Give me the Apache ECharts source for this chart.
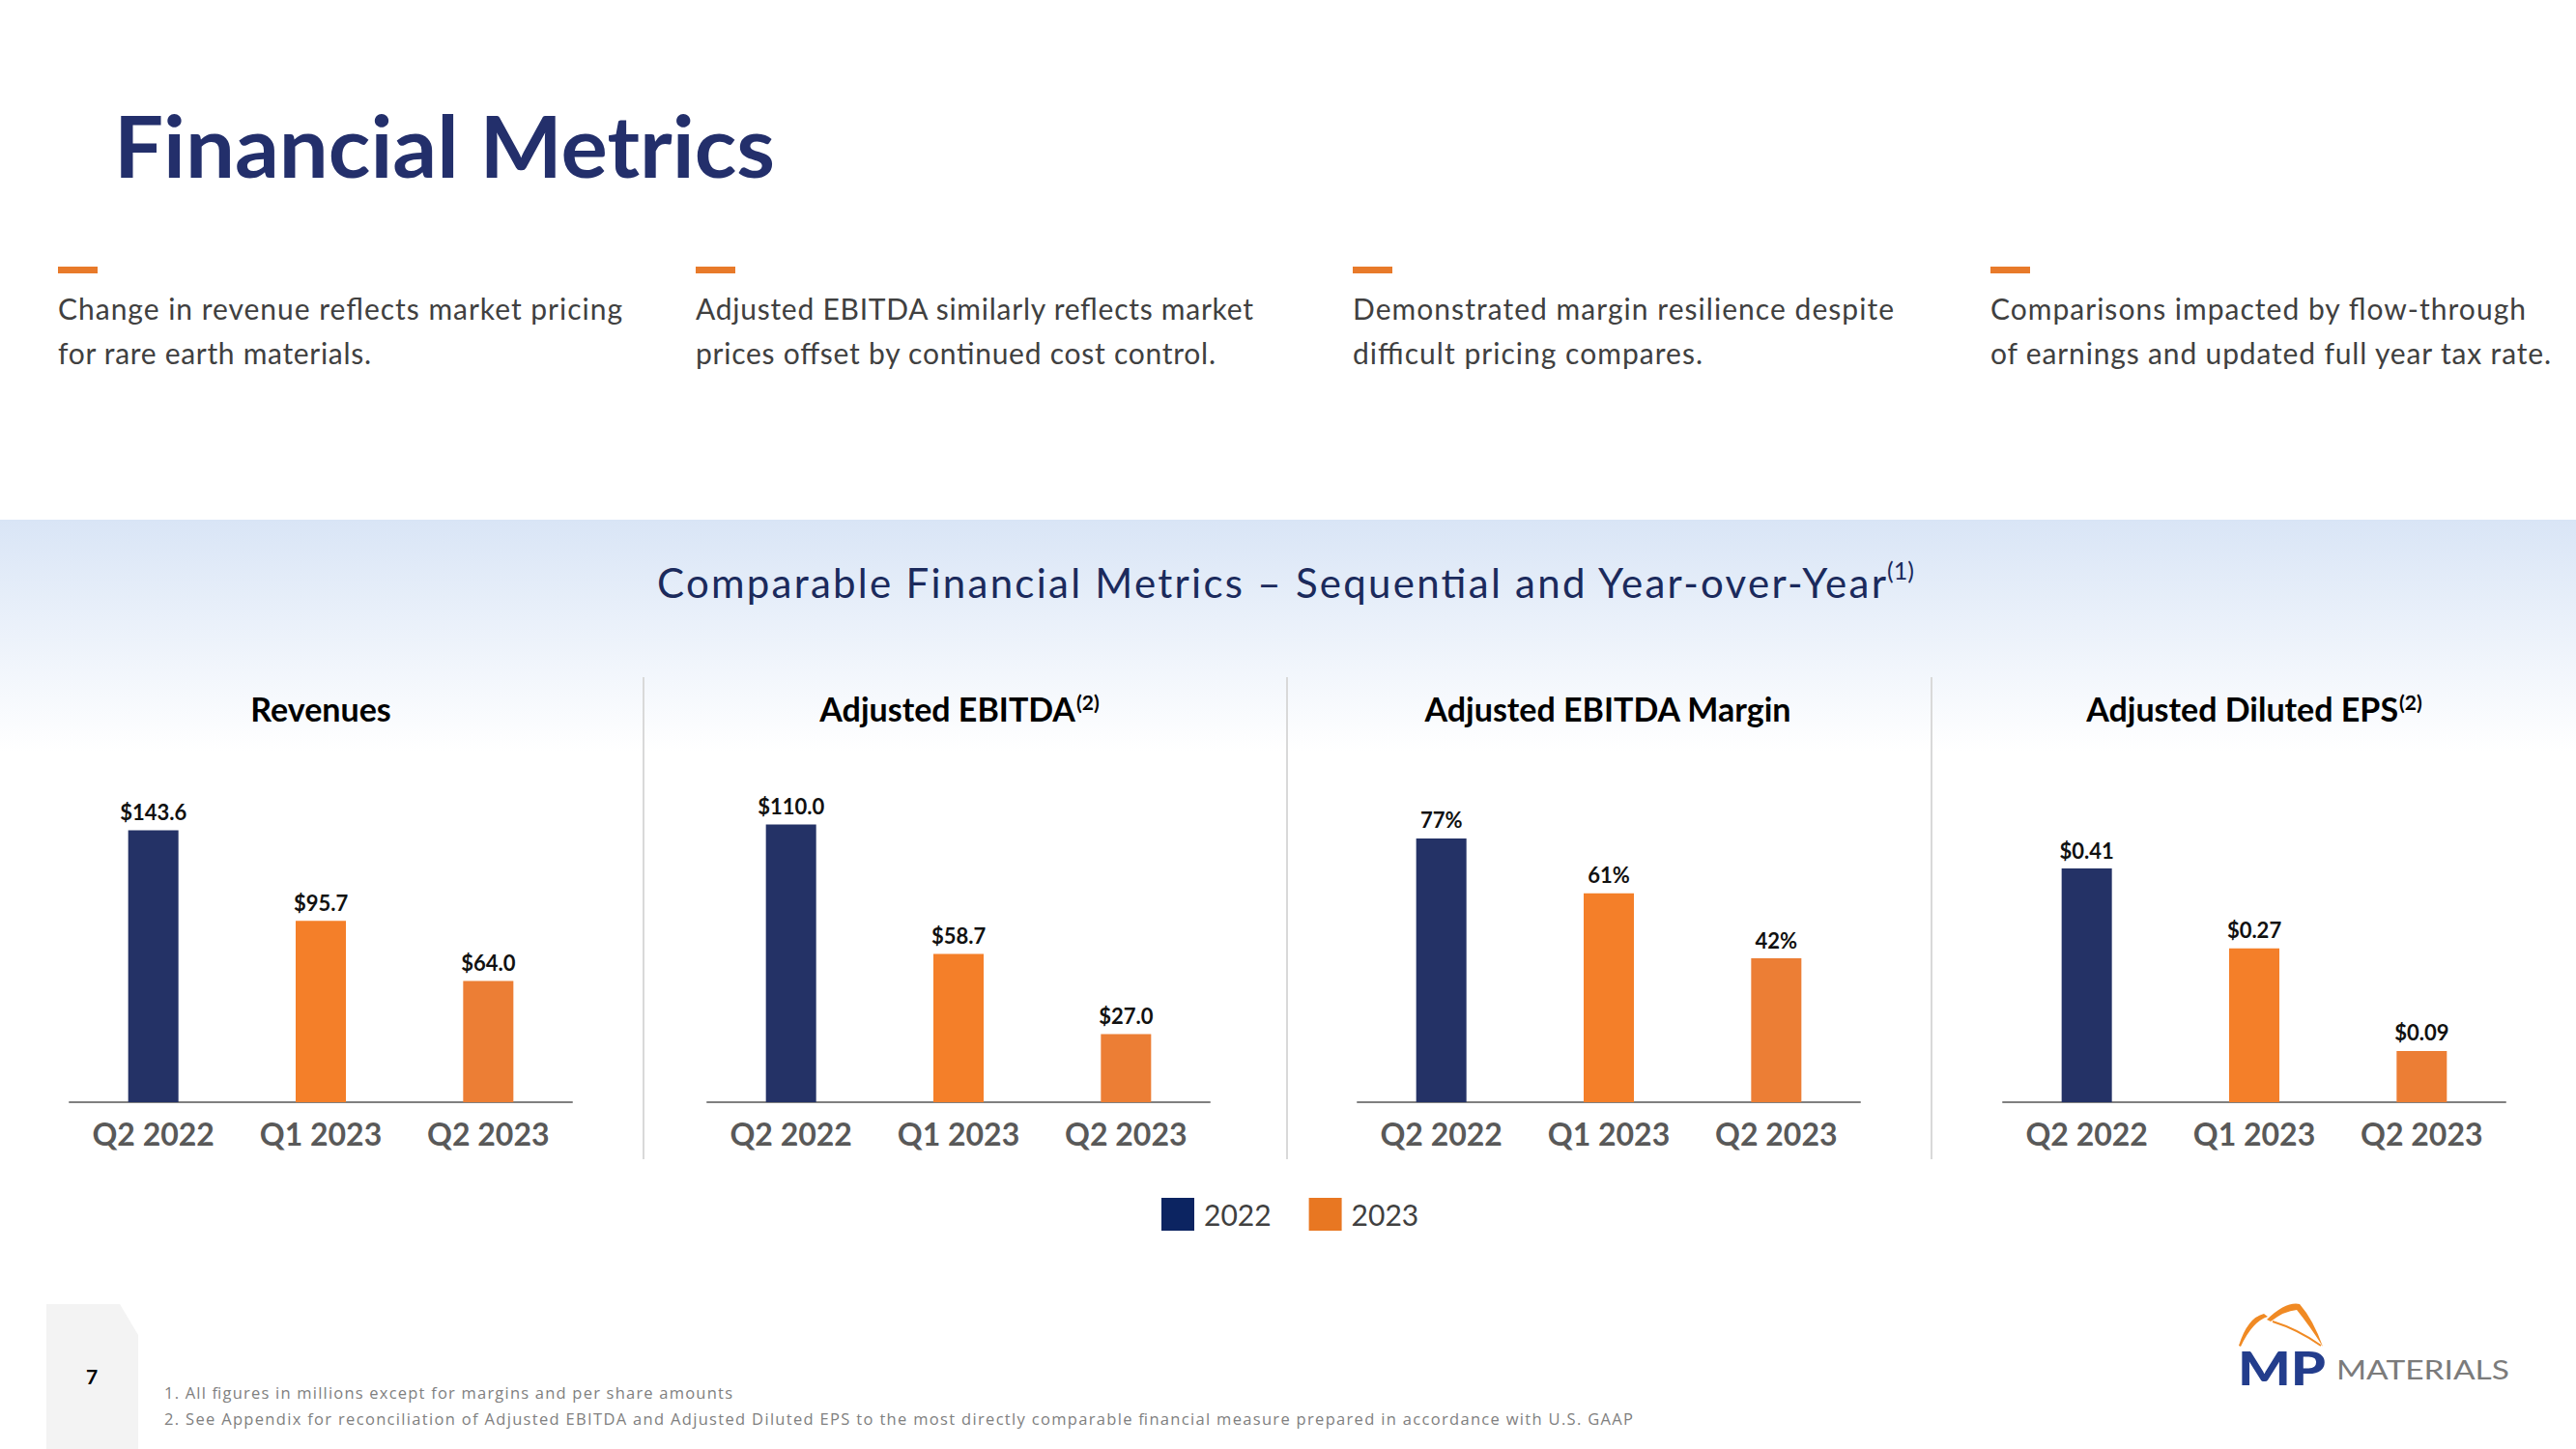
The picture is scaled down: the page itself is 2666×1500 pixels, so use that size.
<!DOCTYPE html>
<html><head><meta charset="utf-8">
<script src="https://cdn.jsdelivr.net/npm/echarts@6/dist/echarts.min.js"></script>
<style>
html,body{margin:0;padding:0;background:#fff;}
#page{position:relative;width:2666px;height:1500px;overflow:hidden;background:#fff;}
#deco{position:absolute;left:0;top:0;}
#chart{position:absolute;left:0;top:0;width:2666px;height:1500px;}
</style></head>
<body><div id="page">
<svg id="deco" width="2666" height="1500" xmlns="http://www.w3.org/2000/svg" font-family="Lato, 'Noto Sans', sans-serif">
<defs><linearGradient id="band" x1="0" y1="0" x2="0" y2="1"><stop offset="0" stop-color="#d9e5f6"/><stop offset="1" stop-color="#ffffff"/></linearGradient></defs>
<rect x="0" y="538" width="2666" height="240" fill="url(#band)"/>
<text x="118" y="184" font-size="88" font-weight="700" fill="#232f6b" textLength="684" lengthAdjust="spacingAndGlyphs">Financial Metrics</text>
<g fill="#e87a2a"><rect x="60" y="276" width="41" height="7"/><rect x="720" y="276" width="41" height="7"/><rect x="1400" y="276" width="41" height="7"/><rect x="2060" y="276" width="41" height="7"/></g>
<g font-size="30" fill="#404040">
<text x="60" y="331" textLength="584">Change in revenue reflects market pricing</text>
<text x="60" y="377" textLength="324">for rare earth materials.</text>
<text x="720" y="331" textLength="577">Adjusted EBITDA similarly reflects market</text>
<text x="720" y="377" textLength="538">prices offset by continued cost control.</text>
<text x="1400" y="331" textLength="560">Demonstrated margin resilience despite</text>
<text x="1400" y="377" textLength="362">difficult pricing compares.</text>
<text x="2060" y="331" textLength="554">Comparisons impacted by flow-through</text>
<text x="2060" y="377" textLength="580">of earnings and updated full year tax rate.</text>
</g>
<text x="680" y="619" font-size="42" fill="#1b2a5c" textLength="1272">Comparable Financial Metrics – Sequential and Year-over-Year</text>
<text x="1953" y="600" font-size="25" fill="#1b2a5c">(1)</text>
<g stroke="#d9d9d9" stroke-width="2"><line x1="666" y1="701" x2="666" y2="1200"/><line x1="1332" y1="701" x2="1332" y2="1200"/><line x1="1999" y1="701" x2="1999" y2="1200"/></g>
<polygon points="48,1350 124,1350 143,1382 143,1500 48,1500" fill="#f3f3f3"/>
<text x="89" y="1433" font-size="21" font-weight="700" fill="#000">7</text>
<g font-family="'Open Sans', Lato, sans-serif" font-size="16.5" fill="#808080">
<text x="170" y="1448" textLength="588">1. All figures in millions except for margins and per share amounts</text>
<text x="170" y="1475" textLength="1520">2. See Appendix for reconciliation of Adjusted EBITDA and Adjusted Diluted EPS to the most directly comparable financial measure prepared in accordance with U.S. GAAP</text>
</g>
<g fill="#f08a24">
<path d="M2317,1393 Q2326,1364 2343,1360 L2347,1363 Q2331,1368 2319,1394 Z"/>
<path d="M2346,1366 Q2366,1347 2380,1350 Q2394,1366 2404,1394 Q2390,1372 2377,1356 Q2364,1357 2350,1368 Z"/>
<path d="M2352,1368 Q2378,1376 2402,1393" fill="none" stroke="#f08a24" stroke-width="2"/>
</g>
<text x="2316" y="1434" font-size="48" font-weight="900" fill="#233d8c" textLength="91" lengthAdjust="spacingAndGlyphs">MP</text>
<text x="2418" y="1428" font-size="26" fill="#7b7b7b" textLength="179" lengthAdjust="spacingAndGlyphs">MATERIALS</text>
</svg>
<div id="chart"></div>
</div>
<script>
// ---- data ----
const categories = ['Q2 2022', 'Q1 2023', 'Q2 2023'];
const yearOfCategory = ['2022', '2023', '2023'];
const legendYears = ['2022', '2023'];
const revenues = [143.6, 95.7, 64.0];
const adjustedEbitda = [110.0, 58.7, 27.0];
const ebitdaMargin = [77, 61, 42];
const adjustedDilutedEps = [0.41, 0.27, 0.09];
const panelTitles = ['Revenues', 'Adjusted EBITDA', 'Adjusted EBITDA Margin', 'Adjusted Diluted EPS'];
const panelNotes = ['', '(2)', '', '(2)'];

// ---- styling / layout ----
const barColors = ['#243266', '#f47f29', '#ec7e35'];
const legendColors = {'2022': '#0c2461', '2023': '#e87722'};
const FONT = 'Lato, "Noto Sans", sans-serif';
const panels = [
  {values: revenues, fmt: v => '$' + v.toFixed(1), max: 204, left: 72, center: 332},
  {values: adjustedEbitda, fmt: v => '$' + v.toFixed(1), max: 153, left: 732, center: 993},
  {values: ebitdaMargin, fmt: v => v + '%', max: 112.8, left: 1405, center: 1664},
  {values: adjustedDilutedEps, fmt: v => '$' + v.toFixed(2), max: 0.678, left: 2073, center: 2333}
];
const GRID_TOP = 741, GRID_H = 400, GRID_W = 520;

const option = {
  animation: false,
  backgroundColor: 'transparent',
  title: panels.map((p, i) => ({
    text: panelTitles[i] + (panelNotes[i] ? '{s|' + panelNotes[i] + '}' : ''),
    left: p.center, top: 716, textAlign: 'center', padding: 0,
    textStyle: {fontFamily: FONT, fontSize: 34, fontWeight: 'bold', color: '#000',
      rich: {s: {fontFamily: FONT, fontSize: 21, color: '#000', verticalAlign: 'top', padding: [0, 0, 0, 1]}}}
  })),
  legend: {
    data: legendYears.map(y => ({name: y, itemStyle: {color: legendColors[y]}})),
    left: 1202, top: 1240, padding: 0, itemWidth: 34, itemHeight: 34, itemGap: 39, icon: 'rect',
    textStyle: {fontFamily: FONT, fontSize: 30, color: '#404040', padding: [0, 0, 0, 5]},
    selectedMode: false
  },
  grid: panels.map(p => ({left: p.left, top: GRID_TOP, width: GRID_W, height: GRID_H})),
  xAxis: panels.map((p, i) => ({
    type: 'category', gridIndex: i, data: categories,
    axisLine: {lineStyle: {color: '#808080', width: 2}},
    axisTick: {show: false},
    axisLabel: {fontFamily: FONT, fontSize: 32, fontWeight: 'bold', color: '#595959', margin: 16}
  })),
  yAxis: panels.map((p, i) => ({type: 'value', gridIndex: i, min: 0, max: p.max, show: false, splitLine: {show: false}})),
  series: []
};
panels.forEach((p, i) => {
  legendYears.forEach(y => {
    option.series.push({
      type: 'bar', name: y, xAxisIndex: i, yAxisIndex: i,
      barWidth: 52, barGap: '-100%',
      data: p.values.map((v, j) => yearOfCategory[j] === y ? {value: v, itemStyle: {color: barColors[j]}} : '-'),
      label: {show: true, position: 'top', distance: 8, fontFamily: FONT, fontSize: 22, fontWeight: 'bold', color: '#111',
        formatter: prm => p.fmt(prm.value)}
    });
  });
});
const chart = echarts.init(document.getElementById('chart'), null, {renderer: 'svg'});
chart.setOption(option);
</script>
</body></html>
